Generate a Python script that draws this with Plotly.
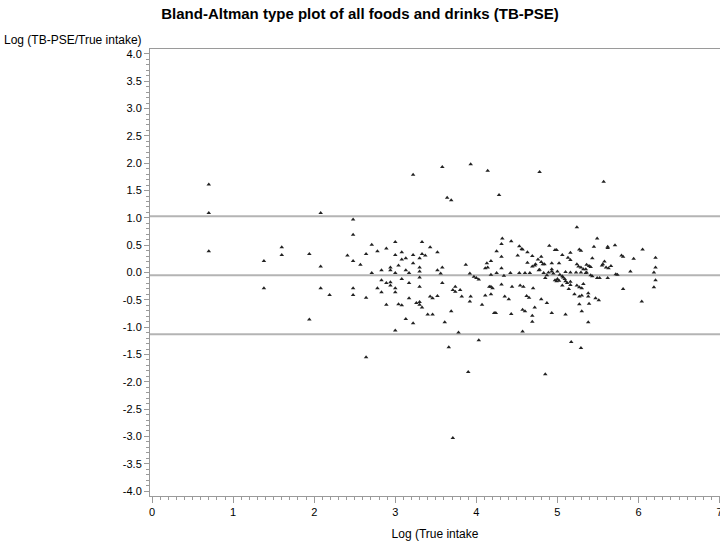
import plotly.graph_objects as go

title_text = "Bland-Altman type plot of all foods and drinks (TB-PSE)"
y_label = "Log (TB-PSE/True intake)"
x_label = "Log (True intake"

mean_diff = -0.05
upper_loa = 1.03
lower_loa = -1.13

# (x, y) pairs: x = Log(True intake), y = Log(TB-PSE/True intake)
pts = [
    (0.70, 1.61), (0.70, 1.09), (0.70, 0.39),
    (1.38, 0.21), (1.38, -0.29),
    (1.60, 0.46), (1.60, 0.32),
    (1.94, 0.34), (1.94, -0.86),
    (2.08, 1.09), (2.08, 0.11), (2.08, -0.29),
    (2.19, -0.41), (2.41, 0.31),
    (2.48, 0.97), (2.48, 0.69), (2.48, 0.21), (2.48, -0.29), (2.48, -0.41),
    (2.57, 0.14),
    (2.64, 0.34), (2.64, -0.46), (2.64, -1.55),
    (2.71, 0.51), (2.71, -0.01),
    (2.78, 0.39), (2.78, -0.29),
    (2.83, 0.04), (2.83, -0.14), (2.83, -0.36),
    (2.89, 0.44), (2.89, -0.19), (2.89, -0.59),
    (2.94, 0.09), (2.94, 0.04), (2.94, -0.18), (2.94, -0.24),
    (3.00, 0.56), (3.00, 0.32), (3.00, -0.01), (3.00, -0.29), (3.00, -0.36), (3.00, -1.06),
    (3.04, 0.13), (3.04, -0.58),
    (3.08, 0.37), (3.08, 0.24), (3.08, -0.12), (3.08, -0.60),
    (3.13, 0.26), (3.13, 0.04), (3.13, -0.85),
    (3.17, -0.01), (3.17, -0.19), (3.17, -0.47),
    (3.22, 1.79), (3.22, 0.32), (3.22, 0.17), (3.22, -0.93),
    (3.26, -0.56),
    (3.30, 0.26), (3.30, 0.09), (3.30, 0.02), (3.30, -0.09), (3.30, -0.26), (3.30, -0.54), (3.30, -0.59),
    (3.33, 0.56), (3.33, 0.34), (3.33, -0.64),
    (3.37, 0.31), (3.40, -0.77),
    (3.43, 0.46), (3.43, -0.44),
    (3.46, -0.47), (3.46, -0.77),
    (3.52, 0.37), (3.52, 0.04), (3.52, -0.43),
    (3.56, -0.02),
    (3.58, 1.93), (3.58, 0.09), (3.58, -0.19),
    (3.61, -0.91), (3.64, 1.37), (3.66, -1.37),
    (3.69, 1.32), (3.69, -0.71),
    (3.71, -0.32), (3.71, -3.03),
    (3.74, -0.35), (3.74, -0.26),
    (3.78, -1.10), (3.80, -0.32), (3.82, -0.44), (3.87, 0.14), (3.90, -1.82),
    (3.92, -0.02), (3.92, -0.53),
    (3.93, 1.98), (3.93, -0.44),
    (3.97, -0.08), (4.00, -0.10),
    (4.03, -0.13), (4.03, -1.24),
    (4.07, -0.59),
    (4.11, 0.08), (4.11, -0.42),
    (4.13, 0.17), (4.14, 0.09), (4.14, 1.86), (4.16, -0.26),
    (4.18, 0.21), (4.18, -0.04), (4.18, -0.26), (4.20, -0.29), (4.18, -0.40),
    (4.22, -0.74), (4.24, -0.74),
    (4.25, 0.39), (4.25, -0.01),
    (4.28, 1.42),
    (4.31, 0.52), (4.31, 0.29), (4.31, 0.08), (4.31, -0.22),
    (4.32, 0.62), (4.34, -0.06), (4.35, -0.44), (4.40, -0.49), (4.42, -0.01),
    (4.43, 0.57), (4.43, -0.76), (4.44, -0.26),
    (4.51, 0.31), (4.53, 0.48), (4.53, -0.01), (4.54, -0.24), (4.56, 0.43),
    (4.57, 0.42), (4.57, -0.68), (4.57, -1.08),
    (4.58, -0.26), (4.60, -0.01), (4.60, -0.71), (4.62, -0.43),
    (4.63, 0.37), (4.63, 0.18), (4.65, -0.46), (4.66, -0.01),
    (4.69, 0.30), (4.69, 0.11), (4.69, -0.79), (4.69, -0.90),
    (4.70, -0.29), (4.72, 0.13), (4.72, -0.64), (4.73, 0.15),
    (4.76, 0.24), (4.77, 0.04), (4.78, 0.05), (4.78, 1.84),
    (4.80, 0.29), (4.80, 0.19), (4.80, -0.49),
    (4.82, 0.15), (4.84, 0.15), (4.83, -0.01), (4.85, -1.86), (4.85, -0.10),
    (4.87, -0.05), (4.87, -0.56), (4.89, 0.00),
    (4.90, 0.49),
    (4.93, 0.17), (4.93, 0.06), (4.93, 0.02), (4.93, -0.74), (4.95, -0.02),
    (4.97, 0.41), (4.97, -0.14), (4.99, 0.41), (4.99, -0.16),
    (5.00, -0.12), (5.00, 0.02),
    (5.02, 0.17), (5.02, -0.15), (5.03, -0.04),
    (5.06, 0.32), (5.06, -0.07), (5.06, -0.24),
    (5.07, -0.09), (5.09, -0.12),
    (5.10, -0.16), (5.10, 0.01), (5.10, -0.77),
    (5.12, -0.19), (5.13, 0.27), (5.14, -0.30),
    (5.16, 0.36), (5.16, 0.23), (5.16, -0.17), (5.16, -0.23), (5.16, 0.00),
    (5.17, -1.27), (5.21, -0.40),
    (5.23, 0.00), (5.24, 0.83), (5.24, 0.15), (5.24, -0.24),
    (5.26, 0.11),
    (5.27, 0.42), (5.27, -0.27), (5.27, -0.44), (5.27, -0.58),
    (5.29, 0.40), (5.29, 0.09), (5.29, -1.38), (5.29, 0.00),
    (5.30, -0.29), (5.30, -0.71), (5.30, -0.42),
    (5.32, 0.06), (5.32, -0.21),
    (5.35, 0.06), (5.35, -0.01), (5.36, 0.14), (5.36, 0.00),
    (5.38, -0.38), (5.38, -0.44), (5.38, -0.91),
    (5.39, 0.12), (5.39, -0.57),
    (5.41, 0.10), (5.41, -0.05), (5.43, 0.26), (5.43, -0.07),
    (5.45, 0.47), (5.47, -0.47),
    (5.49, 0.62), (5.49, -0.10), (5.51, -0.51), (5.52, -0.10),
    (5.55, 0.13), (5.56, 0.15), (5.57, 1.66), (5.58, 0.20), (5.60, 0.09),
    (5.62, 0.47), (5.62, 0.45), (5.62, -0.10), (5.63, 0.08), (5.66, 0.12),
    (5.71, 0.50), (5.72, -0.03), (5.74, -0.04),
    (5.79, 0.31), (5.81, 0.29), (5.81, -0.30),
    (5.90, 0.02), (5.94, 0.25),
    (6.04, -0.53), (6.05, 0.42),
    (6.19, 0.00), (6.19, -0.27),
    (6.21, 0.27), (6.21, 0.09), (6.21, -0.14),
]
log_true = [p[0] for p in pts]
log_ratio = [p[1] for p in pts]

x_ticks = [0, 1, 2, 3, 4, 5, 6, 7]
y_ticks = [4.0, 3.5, 3.0, 2.5, 2.0, 1.5, 1.0, 0.5, 0.0, -0.5, -1.0, -1.5, -2.0, -2.5, -3.0, -3.5, -4.0]

FONT = "Liberation Sans Narrow, Liberation Sans, Arial, sans-serif"
AXC = "#9a9a9a"

fig = go.Figure()
fig.add_trace(go.Scatter(
    x=log_true, y=log_ratio, mode="markers",
    marker=dict(symbol="triangle-up", size=4, color="#222222", line=dict(width=0)),
    showlegend=False, hoverinfo="x+y",
))

for v in (upper_loa, mean_diff, lower_loa):
    fig.add_shape(type="line", xref="paper", x0=0, x1=1, yref="y", y0=v, y1=v,
                  line=dict(color="#b4b4b4", width=2), layer="below")

fig.update_layout(
    width=720, height=547,
    margin=dict(l=150, r=0, t=49, b=51, autoexpand=False),
    paper_bgcolor="white", plot_bgcolor="white",
    font=dict(family=FONT, size=11, color="#000000"),
    title=dict(text="<b>" + title_text + "</b>", x=0.5, xref="container", xanchor="center",
               y=1 - 14 / 547, yref="container", yanchor="middle",
               font=dict(family="Liberation Sans, Arial, sans-serif", size=15, color="#000000")),
    xaxis=dict(
        range=[-0.025, 7.005], tickvals=x_ticks, ticktext=[str(v) for v in x_ticks],
        showgrid=False, zeroline=False, showline=True, linecolor=AXC, linewidth=1, mirror=True,
        ticks="outside", ticklen=6, tickcolor=AXC, ticklabeloverflow="allow",
        minor=dict(dtick=0.1, ticks="outside", ticklen=3, tickcolor=AXC, showgrid=False),
        tickfont=dict(family=FONT, size=11, color="#000000"),
        title=dict(text=x_label, font=dict(family=FONT, size=12, color="#000000"), standoff=12),
        automargin=False,
    ),
    yaxis=dict(
        range=[-4.09, 4.09], tickvals=y_ticks, ticktext=["%.1f" % v for v in y_ticks],
        showgrid=False, zeroline=False, showline=True, linecolor=AXC, linewidth=1, mirror=True,
        ticks="outside", ticklen=5, tickcolor=AXC,
        minor=dict(dtick=0.1, ticks="outside", ticklen=3, tickcolor=AXC, showgrid=False),
        tickfont=dict(family=FONT, size=11, color="#000000"),
        automargin=False,
    ),
)

fig.add_annotation(text=y_label, xref="paper", yref="paper", x=0, y=1,
                   xanchor="right", yanchor="bottom", xshift=-6, yshift=0,
                   showarrow=False, font=dict(family=FONT, size=12, color="#000000"))

fig.write_html("out.html")
